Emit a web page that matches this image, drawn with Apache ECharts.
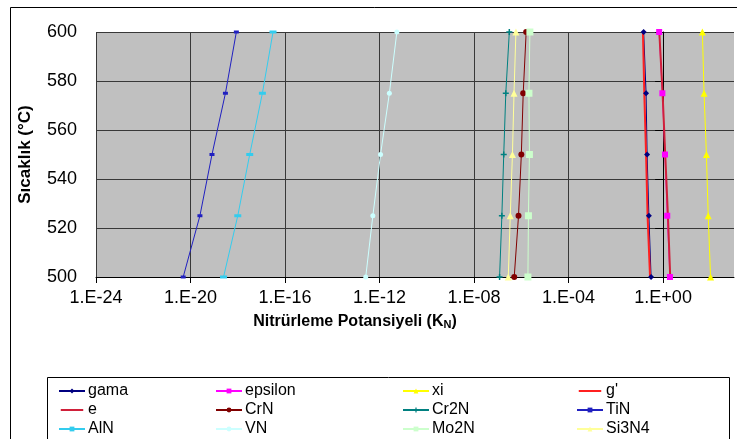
<!DOCTYPE html>
<html>
<head>
<meta charset="utf-8">
<script src="https://cdn.jsdelivr.net/npm/echarts@6/dist/echarts.min.js"></script>
<style>
  html, body { margin: 0; padding: 0; background: #fff; }
  #chart { width: 737px; height: 439px; }
</style>
</head>
<body>
<div id="chart"></div>
<script>
// Temperatures (°C) at which each nitriding potential was computed
const temps = [500, 525, 550, 575, 600];

// Nitriding potential K_N for each phase / nitride, one value per temperature
const gama    = [0.31, 0.25, 0.21, 0.19, 0.15];
const epsilon = [1.95, 1.5, 1.2, 0.93, 0.68];
const xi      = [102, 81, 68, 54, 46];
const gPrime  = [0.28, 0.22, 0.19, 0.16, 0.14];
const eLine   = [2.0, 1.6, 1.23, 0.95, 0.69];
const CrN     = [5.0e-7, 7.6e-7, 1.0e-6, 1.2e-6, 1.6e-6];
const Cr2N    = [1.2e-7, 1.5e-7, 1.8e-7, 2.2e-7, 3.1e-7];
const TiN     = [4.9e-21, 2.5e-20, 8.1e-20, 3.0e-19, 8.7e-19];
const AlN     = [2.5e-19, 1.0e-18, 3.2e-18, 1.1e-17, 3.1e-17];
const VN      = [2.6e-13, 5.2e-13, 1.1e-12, 2.6e-12, 5.4e-12];
const Mo2N    = [1.9e-6, 2.0e-6, 2.2e-6, 2.1e-6, 2.3e-6];
const Si3N4   = [2.8e-7, 3.4e-7, 4.2e-7, 4.9e-7, 5.9e-7];

// Axis ranges (x in decades of K_N) and labels
const xMinExp = -24, xMaxExp = 3, xStepExp = 4;
const yMin = 500, yMax = 600, yStep = 20;
const xTitle = 'Nitrürleme Potansiyeli (K{sub|N})';
const yTitle = 'Sıcaklık (°C)';

const FONT = '"Liberation Sans", Arial, sans-serif';
const plusPath = 'path://M3,0H5V3H8V5H5V8H3V5H0V3H3Z';
// plain line icon for legend entries of series drawn without markers
const lineIcon = 'path://M0,2.6H30V5.4H0Z M0,0H0.01V0.01H0Z M0,8H0.01V8.01H0Z';

const seriesDefs = [
  { name: 'gama',    data: gama,    color: '#000080', symbol: 'diamond',  size: 6, width: 1 },
  { name: 'epsilon', data: epsilon, color: '#FF00FF', symbol: 'rect',     size: 6, width: 1 },
  { name: 'xi',      data: xi,      color: '#FFFF00', symbol: 'triangle', size: 7, width: 1 },
  { name: "g'",      data: gPrime,  color: '#FF2020', symbol: 'none',     size: 0, width: 2 },
  { name: 'e',       data: eLine,   color: '#D0203A', symbol: 'none',     size: 0, width: 2 },
  { name: 'CrN',     data: CrN,     color: '#800000', symbol: 'circle',   size: 6, width: 1 },
  { name: 'Cr2N',    data: Cr2N,    color: '#008080', symbol: plusPath,   size: 6, width: 1 },
  { name: 'TiN',     data: TiN,     color: '#2020C0', symbol: 'rect',     size: [5, 3], width: 1 },
  { name: 'AlN',     data: AlN,     color: '#33CCEE', symbol: 'rect',     size: [7, 3], width: 1 },
  { name: 'VN',      data: VN,      color: '#CCFFFF', symbol: 'circle',   size: 5, width: 1 },
  { name: 'Mo2N',    data: Mo2N,    color: '#CCFFCC', symbol: 'rect',     size: 7, width: 1 },
  { name: 'Si3N4',   data: Si3N4,   color: '#FFFF99', symbol: 'triangle', size: 7, width: 1 }
];

// x is plotted in decades: position = log10(K_N)
const series = seriesDefs.map(d => ({
  name: d.name,
  type: 'line',
  data: d.data.map((v, i) => [Math.log10(v), temps[i]]),
  symbol: d.symbol,
  symbolSize: d.size,
  showSymbol: d.symbol !== 'none',
  lineStyle: { color: d.color, width: d.width },
  itemStyle: { color: d.color },
  emphasis: { disabled: true },
  animation: false
}));

const noMarker = new Set(seriesDefs.filter(d => d.symbol === 'none').map(d => d.name));

// Legend laid out as 4 columns x 3 rows
const legendCols = [
  ['gama', 'e', 'AlN'],
  ['epsilon', 'CrN', 'VN'],
  ['xi', 'Cr2N', 'Mo2N'],
  ["g'", 'TiN', 'Si3N4']
];
const colX = [58, 215, 402, 576];
const legends = legendCols.map((names, i) => ({
  data: names.map(n => noMarker.has(n) ? { name: n, icon: lineIcon } : { name: n }),
  orient: 'vertical',
  left: colX[i],
  top: 383,
  height: 80,
  itemWidth: 26,
  itemHeight: 6,
  itemGap: 3,
  padding: 0,
  selectedMode: false,
  textStyle: { fontFamily: FONT, fontSize: 16, lineHeight: 16, color: '#000', padding: [0, 0, 0, -2] }
}));

function expLabel(ex) {
  if (ex % 4 !== 0) return '';
  const s = Math.abs(ex).toString().padStart(2, '0');
  return '1.E' + (ex < 0 ? '-' : '+') + s;
}

const chart = echarts.init(document.getElementById('chart'), null, { renderer: 'canvas' });
chart.setOption({
  animation: false,
  backgroundColor: '#fff',
  grid: {
    left: 96, right: 3, top: 32, bottom: 162,
    show: true, backgroundColor: '#C0C0C0', borderWidth: 0
  },
  xAxis: {
    type: 'value',
    min: xMinExp, max: xMaxExp,
    interval: xStepExp,
    name: xTitle,
    nameLocation: 'middle',
    nameGap: 37,
    nameTextStyle: {
      fontFamily: FONT, fontSize: 16, fontWeight: 'bold', color: '#000',
      padding: [0, 120, 0, 0],
      rich: { sub: { fontFamily: FONT, fontSize: 11, fontWeight: 'bold', color: '#000', verticalAlign: 'bottom', padding: [5, 0, 0, 0] } }
    },
    axisLine: { show: true, lineStyle: { color: '#000', width: 1 } },
    axisTick: { show: true, length: 6, lineStyle: { color: '#000' } },
    axisLabel: {
      fontFamily: FONT, fontSize: 18, color: '#000', margin: 12,
      formatter: expLabel, showMaxLabel: false
    },
    splitLine: { show: true, showMaxLine: false, lineStyle: { color: '#383838', width: 1 } }
  },
  yAxis: {
    type: 'value',
    min: yMin, max: yMax, interval: yStep,
    name: yTitle,
    nameLocation: 'middle',
    nameGap: 62,
    nameRotate: 90,
    nameTextStyle: { fontFamily: FONT, fontSize: 17, fontWeight: 'bold', color: '#000' },
    axisLine: { show: true, lineStyle: { color: '#000', width: 1 } },
    axisTick: { show: true, length: 8, lineStyle: { color: '#000' } },
    axisLabel: { fontFamily: FONT, fontSize: 18, color: '#000', margin: 19 },
    splitLine: { show: true, lineStyle: { color: '#383838', width: 1 } }
  },
  legend: legends,
  graphic: [
    {
      type: 'rect', silent: true, z: -1,
      shape: { x: 10.5, y: 7.5, width: 740, height: 440 },
      style: { fill: null, stroke: '#000', lineWidth: 1 }
    },
    {
      type: 'rect', silent: true,
      shape: { x: 47.5, y: 377.5, width: 682, height: 70 },
      style: { fill: null, stroke: '#000', lineWidth: 1 }
    }
  ],
  series: series
});
</script>
</body>
</html>
